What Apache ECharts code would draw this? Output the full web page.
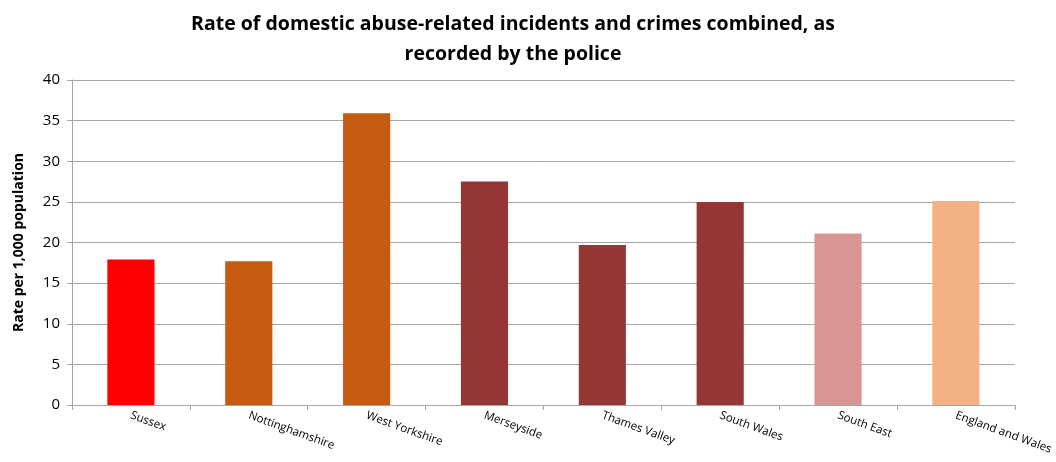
<!DOCTYPE html>
<html>
<head>
<meta charset="utf-8">
<script src="https://cdn.jsdelivr.net/npm/echarts@6/dist/echarts.min.js"></script>
<style>
  html, body { margin: 0; padding: 0; background: #ffffff; }
  #chart { width: 1056px; height: 462px; }
</style>
</head>
<body>
<div id="chart"></div>
<script>
// Police force areas and their combined rate per 1,000 population
const categories = ['Sussex', 'Nottinghamshire', 'West Yorkshire', 'Merseyside',
                    'Thames Valley', 'South Wales', 'South East', 'England and Wales'];
const rates = [17.9, 17.7, 35.9, 27.5, 19.7, 25.0, 21.1, 25.1];
const barColors = ['#ff0000', '#c55a11', '#c55a11', '#943634',
                   '#943634', '#943634', '#d99594', '#f4b183'];
const yTicks = { min: 0, max: 40, interval: 5 };

const chart = echarts.init(document.getElementById('chart'));
const font = '"Open Sans", "Liberation Sans", sans-serif';

chart.setOption({
  backgroundColor: '#ffffff',
  animation: false,
  title: {
    text: 'Rate of domestic abuse-related incidents and crimes combined, as\nrecorded by the police',
    left: 508,
    textAlign: 'center',
    top: 4,
    textStyle: { fontFamily: font, fontSize: 19.5, fontWeight: 'bold', color: '#000000', lineHeight: 30 }
  },
  grid: { left: 72, right: 41, top: 80, bottom: 57 },
  xAxis: {
    type: 'category',
    data: categories,
    axisLine: { lineStyle: { color: '#a6a6a6' } },
    axisTick: { show: true, alignWithLabel: false, length: 5, lineStyle: { color: '#a6a6a6' } },
    axisLabel: { rotate: -20, interval: 0, margin: 10, fontFamily: font, fontSize: 11.5, color: '#000000' }
  },
  yAxis: {
    type: 'value',
    min: yTicks.min, max: yTicks.max, interval: yTicks.interval,
    name: 'Rate per 1,000 population',
    nameLocation: 'middle',
    nameGap: 46,
    nameTextStyle: { fontFamily: font, fontSize: 14, fontWeight: 'bold', color: '#000000' },
    axisLine: { show: true, lineStyle: { color: '#a6a6a6' } },
    axisTick: { show: true, length: 5, lineStyle: { color: '#a6a6a6' } },
    axisLabel: { fontFamily: font, fontSize: 15, color: '#000000', margin: 12 },
    splitLine: { lineStyle: { color: '#a6a6a6', width: 1 } }
  },
  series: [{
    type: 'bar',
    data: rates.map((v, i) => ({ value: v, itemStyle: { color: barColors[i] } })),
    barWidth: '40%'
  }]
});
</script>
</body>
</html>
